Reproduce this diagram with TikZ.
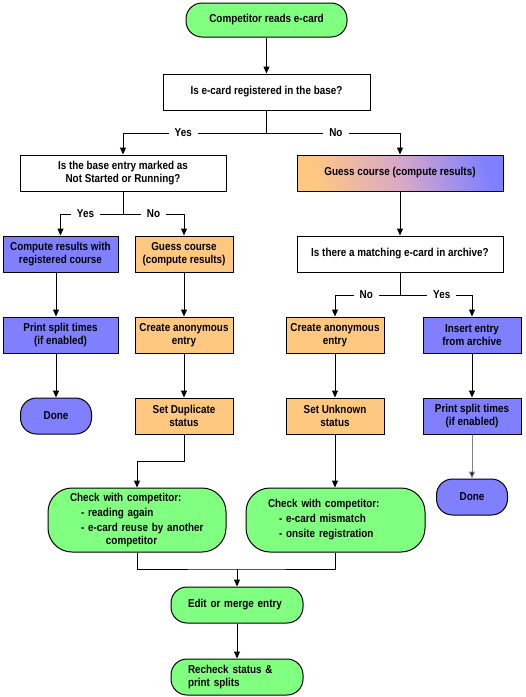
\documentclass[tikz,border=0pt]{standalone}
\usepackage{fontspec}
\setmainfont{Liberation Sans}[FakeStretch=0.86]
\usetikzlibrary{arrows.meta,calc}
\definecolor{cgreen}{HTML}{80FF80}
\definecolor{cblue}{HTML}{8080FF}
\definecolor{corange}{HTML}{FFC880}
\definecolor{cpink}{HTML}{D8A8C8}
\definecolor{cpurple}{HTML}{A888F0}
\begin{document}
\begin{tikzpicture}[x=1pt,y=-1pt,
  every node/.style={font=\fontsize{11.5}{13}\selectfont\bfseries},
  box/.style={draw=black,line width=1pt,inner sep=0pt,align=center,minimum height=36pt},
  wide/.style={box,minimum width=206pt},
  small/.style={box,minimum width=98pt},
  mid/.style={box,minimum width=115pt},
  term/.style={draw=black,line width=1pt,rounded corners=16pt,inner sep=0pt,align=center,minimum height=36pt},
  bigterm/.style={draw=black,line width=1pt,rounded corners=24pt,inner ysep=0pt,inner xsep=22pt,align=left,text width=134pt,minimum height=64pt},
  arr/.style={draw=black,line width=1pt,-{Triangle[length=7pt,width=6pt]}},
  lin/.style={draw=black,line width=1pt},
  lbl/.style={fill=white,inner xsep=6pt,inner ysep=1pt}]
\useasboundingbox (0,0) rectangle (526,697);

\node[term,fill=cgreen,minimum width=161pt,minimum height=34pt] (start) at (266.5,20) {Competitor reads e-card};
\node[box,minimum width=207pt] (q1) at (266.5,92) {Is e-card registered in the base?};
\node[wide] (q2) at (123,173) {Is the base entry marked as\\Not Started or Running?};
\node[wide,left color=corange,right color=cblue,middle color=cpink,shading angle=105] (guessR) at (400,173) {Guess course (compute results)};
\node[mid,fill=cblue] (comp) at (60.5,254) {Compute results with\\registered course};
\node[small,fill=corange] (guessL) at (184,254) {Guess course\\(compute results)};
\node[wide] (q3) at (400,254) {Is there a matching e-card in archive?};
\node[mid,fill=cblue] (print1) at (60.5,335) {Print split times\\(if enabled)};
\node[small,fill=corange] (anon1) at (184,335) {Create anonymous\\entry};
\node[small,fill=corange] (anon2) at (335,335) {Create anonymous\\entry};
\node[small,fill=cblue] (insert) at (472,335) {Insert entry\\from archive};
\node[term,fill=cblue,minimum width=71pt] (done1) at (56,416) {Done};
\node[small,fill=corange] (dup) at (184,416) {Set Duplicate\\status};
\node[small,fill=corange] (unk) at (335,416) {Set Unknown\\status};
\node[small,fill=cblue] (print2) at (472,416) {Print split times\\(if enabled)};
\node[term,fill=cblue,minimum width=71pt] (done2) at (472,497) {Done};
\node[bigterm,fill=cgreen] (check1) at (137,520) {Check with competitor:\\[2pt]\hspace*{11pt}- reading again\\[2pt]\hspace*{11pt}- e-card reuse by another\\\hspace*{36pt}competitor};
\node[bigterm,fill=cgreen,text width=135pt] (check2) at (335.5,520) {Check with competitor:\\[2pt]\hspace*{11pt}- e-card mismatch\\[2pt]\hspace*{11pt}- onsite registration};
\node[term,fill=cgreen,minimum width=132pt,text width=98pt,inner xsep=17pt,align=left] (edit) at (237,605) {Edit or merge entry};
\node[term,fill=cgreen,minimum width=132pt,text width=98pt,inner xsep=17pt,align=left] (recheck) at (237,677) {Recheck status \&\\print splits};

\coordinate (b1) at (266.5,133);
\coordinate (b2) at (123,214);
\coordinate (b3) at (400,295);
\coordinate (m) at (237,569);

\draw[arr] (start) -- (q1);
\draw[lin] (q1.south) -- (b1);
\draw[arr] (b1) -| node[lbl,pos=0.29] {Yes} (q2.north);
\draw[arr] (b1) -| node[lbl,pos=0.26] {No} (guessR.north);
\draw[lin] (q2.south) -- (b2);
\draw[arr] (b2) -| node[lbl,pos=0.3] {Yes} (comp.north);
\draw[arr] (b2) -| node[lbl,pos=0.25] {No} (guessL.north);
\draw[arr] (guessR) -- (q3);
\draw[lin] (q3.south) -- (b3);
\draw[arr] (b3) -| node[lbl,pos=0.26] {No} (anon2.north);
\draw[arr] (b3) -| node[lbl,pos=0.29] {Yes} (insert.north);
\draw[arr] (comp.south -| done1.north) -- (print1.north -| done1.north);
\draw[arr] (print1.south -| done1.north) -- (done1.north);
\draw[arr] (guessL) -- (anon1);
\draw[arr] (anon1) -- (dup);
\draw[arr] (dup.south) -- ++(0,27) -| (check1.north);
\draw[arr] (anon2) -- (unk);
\draw[arr] (unk.south) -- (unk.south |- check2.north);
\draw[arr] (insert) -- (print2);
\draw[line width=1pt,draw=gray,-{Triangle[length=7pt,width=6pt,fill=black]}] (print2) -- (done2);
\draw[lin] (check1.south) |- (m) -| (check2.south);
\draw[arr] (m) -- (edit.north);
\draw[arr] (edit) -- (recheck);
\end{tikzpicture}
\end{document}
